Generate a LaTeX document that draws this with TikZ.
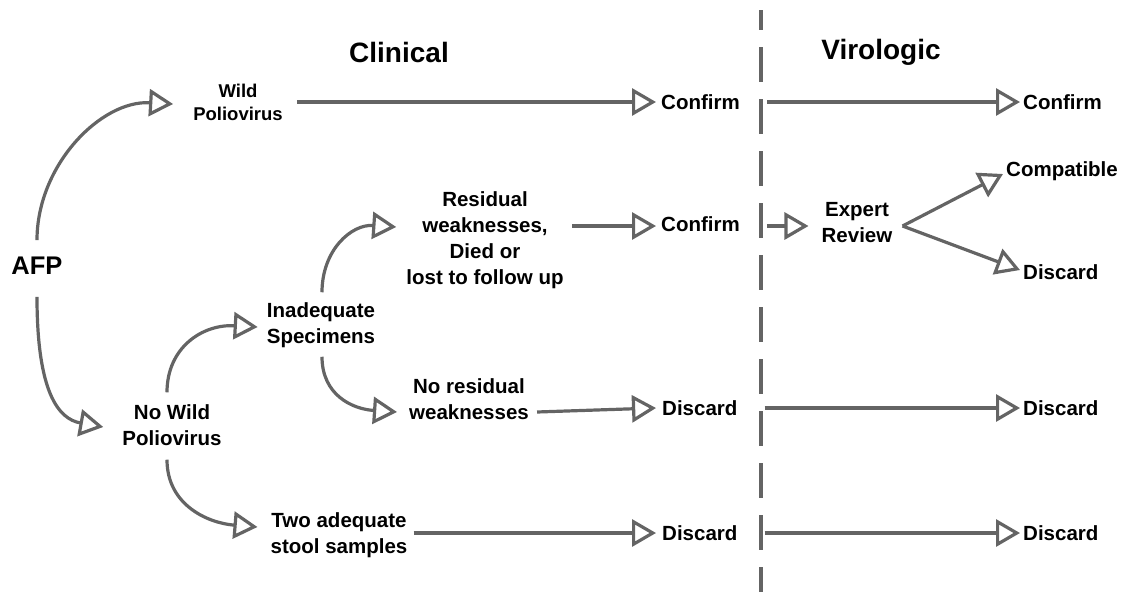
\documentclass[tikz,border=0pt]{standalone}
\usepackage{fontspec}
\setmainfont{Liberation Sans}
\usetikzlibrary{arrows.meta}
\definecolor{lg}{RGB}{100,100,100}
\tikzset{
  txt/.style={font=\bfseries\fontsize{20.5}{26}\selectfont, align=center, inner sep=0pt, text=black},
  smalltxt/.style={font=\bfseries\fontsize{18.5}{23}\selectfont, align=center, inner sep=0pt, text=black},
  titletxt/.style={font=\bfseries\fontsize{28}{32}\selectfont, inner sep=0pt, text=black},
  afptxt/.style={font=\bfseries\fontsize{25.5}{30}\selectfont, inner sep=0pt, text=black},
  arr/.style={draw=lg, line width=3.2pt, -{Triangle[open, length=24pt, width=27pt, line width=3.2pt]}},
  dashline/.style={draw=lg, line width=3.2pt, dash pattern=on 35pt off 17pt, dash phase=15pt}
}
\begin{document}
\begin{tikzpicture}[x=1pt, y=-1pt]
\useasboundingbox (0,0) rectangle (1125,592);
% titles
\node[titletxt] (clin) at (399,52) {Clinical};
\node[titletxt] (viro) at (881,52) {Virologic};
% divider
\coordinate (dtop) at (761,10);
\coordinate (dbot) at (761,592);
\draw[dashline] (dtop) -- (dbot);
% nodes
\node[afptxt] (afp) at (37,266) {AFP};
\node[smalltxt] (wild) at (238,102) {Wild\\Poliovirus};
\node[txt, anchor=west] (confA) at (661,102) {Confirm};
\node[txt, anchor=west] (confB) at (1023,102) {Confirm};
\node[txt] (nowild) at (172,425) {No Wild\\Poliovirus};
\node[txt] (inad) at (321,325) {Inadequate\\Specimens};
\node[txt] (resid) at (485,240) {Residual\\weaknesses,\\Died or\\lost to follow up};
\node[txt, anchor=west] (confC) at (661,224) {Confirm};
\node[txt] (expert) at (857,223) {Expert\\Review};
\node[txt, anchor=west] (compat) at (1006,171) {Compatible};
\node[txt, anchor=west] (discA) at (1023,272) {Discard};
\node[txt] (nores) at (469,399) {No residual\\weaknesses};
\node[txt, anchor=west] (discB) at (662,408) {Discard};
\node[txt, anchor=west] (discC) at (1023,408) {Discard};
\node[txt] (two) at (339,535) {Two adequate\\stool samples};
\node[txt, anchor=west] (discD) at (662,533) {Discard};
\node[txt, anchor=west] (discE) at (1023,533) {Discard};
% curved connectors
\draw[arr] ([yshift=17pt]afp.north) .. controls +(0,-75) and +(-72,-4) .. ([xshift=-20pt,yshift=-2pt]wild.west);
\draw[arr] ([yshift=-22pt]afp.south) .. controls +(0,95) and +(-45,-8) .. ([xshift=-19pt,yshift=-2pt]nowild.west);
\draw[arr] ([xshift=-5pt,yshift=12pt]nowild.north) .. controls +(0,-45) and +(-55,-3) .. ([xshift=-9pt,yshift=-2pt]inad.west);
\draw[arr] ([xshift=-5pt,yshift=-14pt]nowild.south) .. controls +(0,45) and +(-50,-4) .. ([xshift=-13pt,yshift=8pt]two.west);
\draw[arr] ([xshift=1pt,yshift=10pt]inad.north) .. controls +(0,-42) and +(-45,-3) .. ([xshift=-10pt,yshift=13pt]resid.west);
\draw[arr] ([xshift=1pt,yshift=-9pt]inad.south) .. controls +(0,38) and +(-45,-3) .. ([xshift=-12pt,yshift=-13pt]nores.west);
% straight connectors
\draw[arr] ([xshift=14pt]wild.east) -- ([xshift=-5pt]confA.west);
\draw[arr] ([xshift=27pt]confA.east) -- ([xshift=-3pt]confB.west);
\draw[arr] ([xshift=8pt,yshift=14pt]resid.east) -- ([xshift=-5pt,yshift=-2pt]confC.west);
\draw[arr] ([xshift=27pt,yshift=-2pt]confC.east) -- ([xshift=-13pt,yshift=-3pt]expert.west);
\draw[arr] ([xshift=10pt,yshift=-3pt]expert.east) -- ([xshift=-3pt,yshift=-3pt]compat.west);
\draw[arr] ([xshift=10pt,yshift=-3pt]expert.east) -- ([xshift=-3pt,yshift=2pt]discA.west);
\draw[arr] ([xshift=8pt,yshift=-13pt]nores.east) -- ([xshift=-6pt]discB.west);
\draw[arr] ([xshift=27pt]discB.east) -- ([xshift=-3pt]discC.west);
\draw[arr] ([xshift=6pt,yshift=2pt]two.east) -- ([xshift=-6pt]discD.west);
\draw[arr] ([xshift=27pt]discD.east) -- ([xshift=-3pt]discE.west);
\end{tikzpicture}
\end{document}
